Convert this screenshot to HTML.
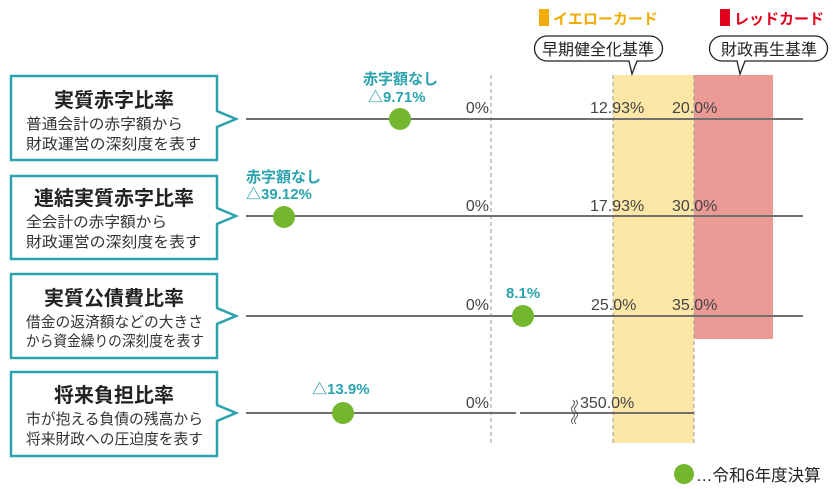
<!DOCTYPE html>
<html><head><meta charset="utf-8"><style>
body{margin:0;background:#fff;}
svg{display:block;font-family:"Liberation Sans","Noto Sans CJK JP",sans-serif;}
</style></head><body>
<svg width="837" height="489" viewBox="0 0 837 489">
<rect x="613" y="75" width="81" height="368" fill="#fce7a6"/>
<rect x="694" y="75" width="79" height="264" fill="#eb9a96"/>
<g stroke="#999" stroke-dasharray="4,3" stroke-width="1">
<line x1="491" y1="75" x2="491" y2="443"/>
<line x1="613" y1="75" x2="613" y2="443"/>
<line x1="694" y1="75" x2="694" y2="443"/>
</g>
<rect x="539" y="9" width="10" height="17" fill="#f0ac00"/>
<text x="553" y="24" font-size="15" font-weight="bold" fill="#f0ac00">イエローカード</text>
<rect x="720" y="9" width="10" height="17" fill="#e0001b"/>
<text x="734" y="24" font-size="15" font-weight="bold" fill="#e0001b">レッドカード</text>
<g fill="#fff" stroke="#222" stroke-width="1.3">
<path d="M547,36 H650 A12,12 0 0 1 650,61 H637 L632,74 L629,61 H547 A12,12 0 0 1 547,36 Z"/>
<path d="M722,36 H815 A12,12 0 0 1 815,61 H745 L740,74 L737,61 H722 A12,12 0 0 1 722,36 Z"/>
</g>
<text x="598" y="55" font-size="16" text-anchor="middle" fill="#222">早期健全化基準</text>
<text x="769" y="55" font-size="16" text-anchor="middle" fill="#222">財政再生基準</text>
<g stroke="#707070" stroke-width="2">
<line x1="246" y1="119" x2="803" y2="119"/>
<line x1="246" y1="216" x2="803" y2="216"/>
<line x1="246" y1="316" x2="803" y2="316"/>
<line x1="246" y1="413" x2="516" y2="413"/>
<line x1="520" y1="413" x2="694" y2="413"/>
</g>
<g fill="none" stroke="#555" stroke-width="1">
<path d="M573,400 q3,3 0,6 q-3,3 0,6 q3,3 0,6 q-3,3 0,6"/>
<path d="M576,400 q3,3 0,6 q-3,3 0,6 q3,3 0,6 q-3,3 0,6"/>
</g>
<g fill="#fff" stroke="#2aa3ae" stroke-width="2.5">
<path d="M11,76 H217 V111 L236,119 L217,127 V160 H11 Z"/>
<path d="M11,176 H217 V208 L236,216 L217,224 V259 H11 Z"/>
<path d="M11,274 H217 V308 L236,316 L217,324 V358 H11 Z"/>
<path d="M11,372 H217 V405 L236,413 L217,421 V456 H11 Z"/>
</g>
<g fill="#222" text-anchor="middle">
<text x="114" y="107" font-size="20" font-weight="bold">実質赤字比率</text>
<text x="114" y="205" font-size="20" font-weight="bold">連結実質赤字比率</text>
<text x="114" y="305" font-size="20" font-weight="bold">実質公債費比率</text>
<text x="114" y="402" font-size="20" font-weight="bold">将来負担比率</text>
</g>
<g fill="#333" font-size="15" lengthAdjust="spacingAndGlyphs">
<text x="26" y="129" textLength="157" lengthAdjust="spacingAndGlyphs">普通会計の赤字額から</text>
<text x="26" y="149" textLength="175" lengthAdjust="spacingAndGlyphs">財政運営の深刻度を表す</text>
<text x="26" y="227" textLength="141" lengthAdjust="spacingAndGlyphs">全会計の赤字額から</text>
<text x="26" y="247" textLength="175" lengthAdjust="spacingAndGlyphs">財政運営の深刻度を表す</text>
<text x="26" y="327" textLength="177" lengthAdjust="spacingAndGlyphs">借金の返済額などの大きさ</text>
<text x="26" y="346" textLength="178" lengthAdjust="spacingAndGlyphs">から資金繰りの深刻度を表す</text>
<text x="26" y="424" textLength="177" lengthAdjust="spacingAndGlyphs">市が抱える負債の残高から</text>
<text x="26" y="444" textLength="177" lengthAdjust="spacingAndGlyphs">将来財政への圧迫度を表す</text>
</g>
<g fill="#72b72e">
<circle cx="400" cy="119" r="11"/>
<circle cx="284" cy="217" r="11"/>
<circle cx="523" cy="316" r="11"/>
<circle cx="343" cy="413" r="11"/>
<circle cx="684" cy="474" r="10"/>
</g>
<g fill="#2aa3ae" font-size="15" font-weight="bold">
<text x="363" y="84">赤字額なし</text>
<text x="368" y="102">△9.71%</text>
<text x="246" y="182">赤字額なし</text>
<text x="246" y="199">△39.12%</text>
<text x="506" y="298">8.1%</text>
<text x="312" y="394">△13.9%</text>
</g>
<g fill="#444" font-size="16">
<text x="489" y="113" text-anchor="end">0%</text>
<text x="489" y="211" text-anchor="end">0%</text>
<text x="489" y="310" text-anchor="end">0%</text>
<text x="489" y="408" text-anchor="end">0%</text>
<text x="590" y="113">12.93%</text>
<text x="672" y="113">20.0%</text>
<text x="590" y="211">17.93%</text>
<text x="672" y="211">30.0%</text>
<text x="591" y="310">25.0%</text>
<text x="672" y="310">35.0%</text>
<text x="580" y="408">350.0%</text>
<text x="696" y="481" fill="#222" font-size="16.5">…令和6年度決算</text>
</g>
</svg>
</body></html>
